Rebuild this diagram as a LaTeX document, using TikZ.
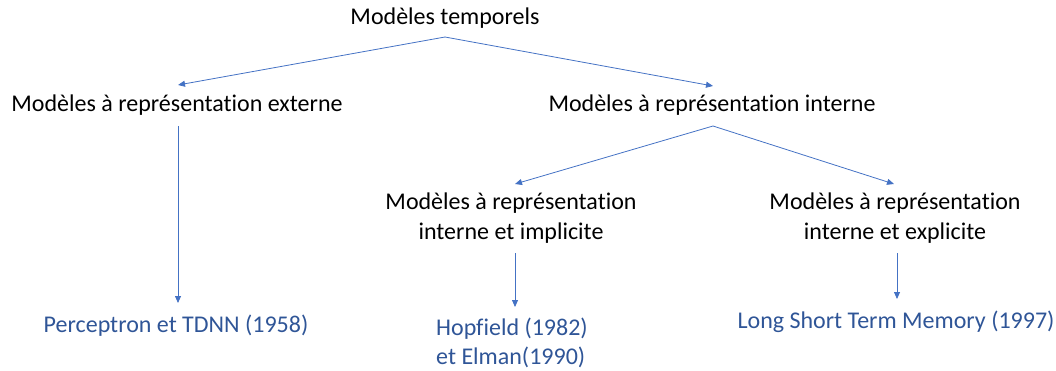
\documentclass[tikz,border=0pt]{standalone}
\usepackage{fontspec}
\setmainfont{Carlito}[Ligatures={NoCommon}]
\usetikzlibrary{arrows.meta}
\definecolor{arr}{HTML}{4472C4}
\definecolor{btxt}{HTML}{2F5597}
\begin{document}
\begin{tikzpicture}[x=1pt,y=-1pt,
  lbl/.style={font=\fontsize{24}{30}\selectfont, inner sep=0pt, align=center},
  leaf/.style={lbl, text=btxt},
  conn/.style={draw=arr, line width=0.8pt, -{Triangle[length=7pt,width=6pt]}}]
\useasboundingbox (0,0) rectangle (1056,370);
\node[lbl] (root) at (445,18) {Modèles temporels};
\node[lbl] (ext) at (177,105) {Modèles à représentation externe};
\node[lbl] (int) at (712,105) {Modèles à représentation interne};
\node[lbl] (imp) at (511,218) {Modèles à représentation\\interne et implicite};
\node[lbl] (exp) at (895,218) {Modèles à représentation\\interne et explicite};
\node[leaf] (perc) at (176,326) {Perceptron et TDNN (1958)};
\node[leaf, align=left, font=\fontsize{24}{28.5}\selectfont] (hop) at (512,343) {Hopfield (1982)\\et Elman(1990)};
\node[leaf] (lstm) at (896,322) {Long Short Term Memory (1997)};
\coordinate (r0) at (445,37);
\coordinate (e1) at (178,85);
\coordinate (i1) at (713,86);
\coordinate (i0) at (713,126);
\coordinate (m1) at (515,184);
\coordinate (x1) at (894,184);
\coordinate (e0) at (178,126);
\coordinate (p1) at (178,303);
\coordinate (m0) at (515,253);
\coordinate (h1) at (515,307);
\coordinate (x0) at (897,253);
\coordinate (l1) at (897,299);
\draw[conn] (r0) -- (e1);
\draw[conn] (r0) -- (i1);
\draw[conn] (i0) -- (m1);
\draw[conn] (i0) -- (x1);
\draw[conn] (e0) -- (p1);
\draw[conn] (m0) -- (h1);
\draw[conn] (x0) -- (l1);
\end{tikzpicture}
\end{document}
